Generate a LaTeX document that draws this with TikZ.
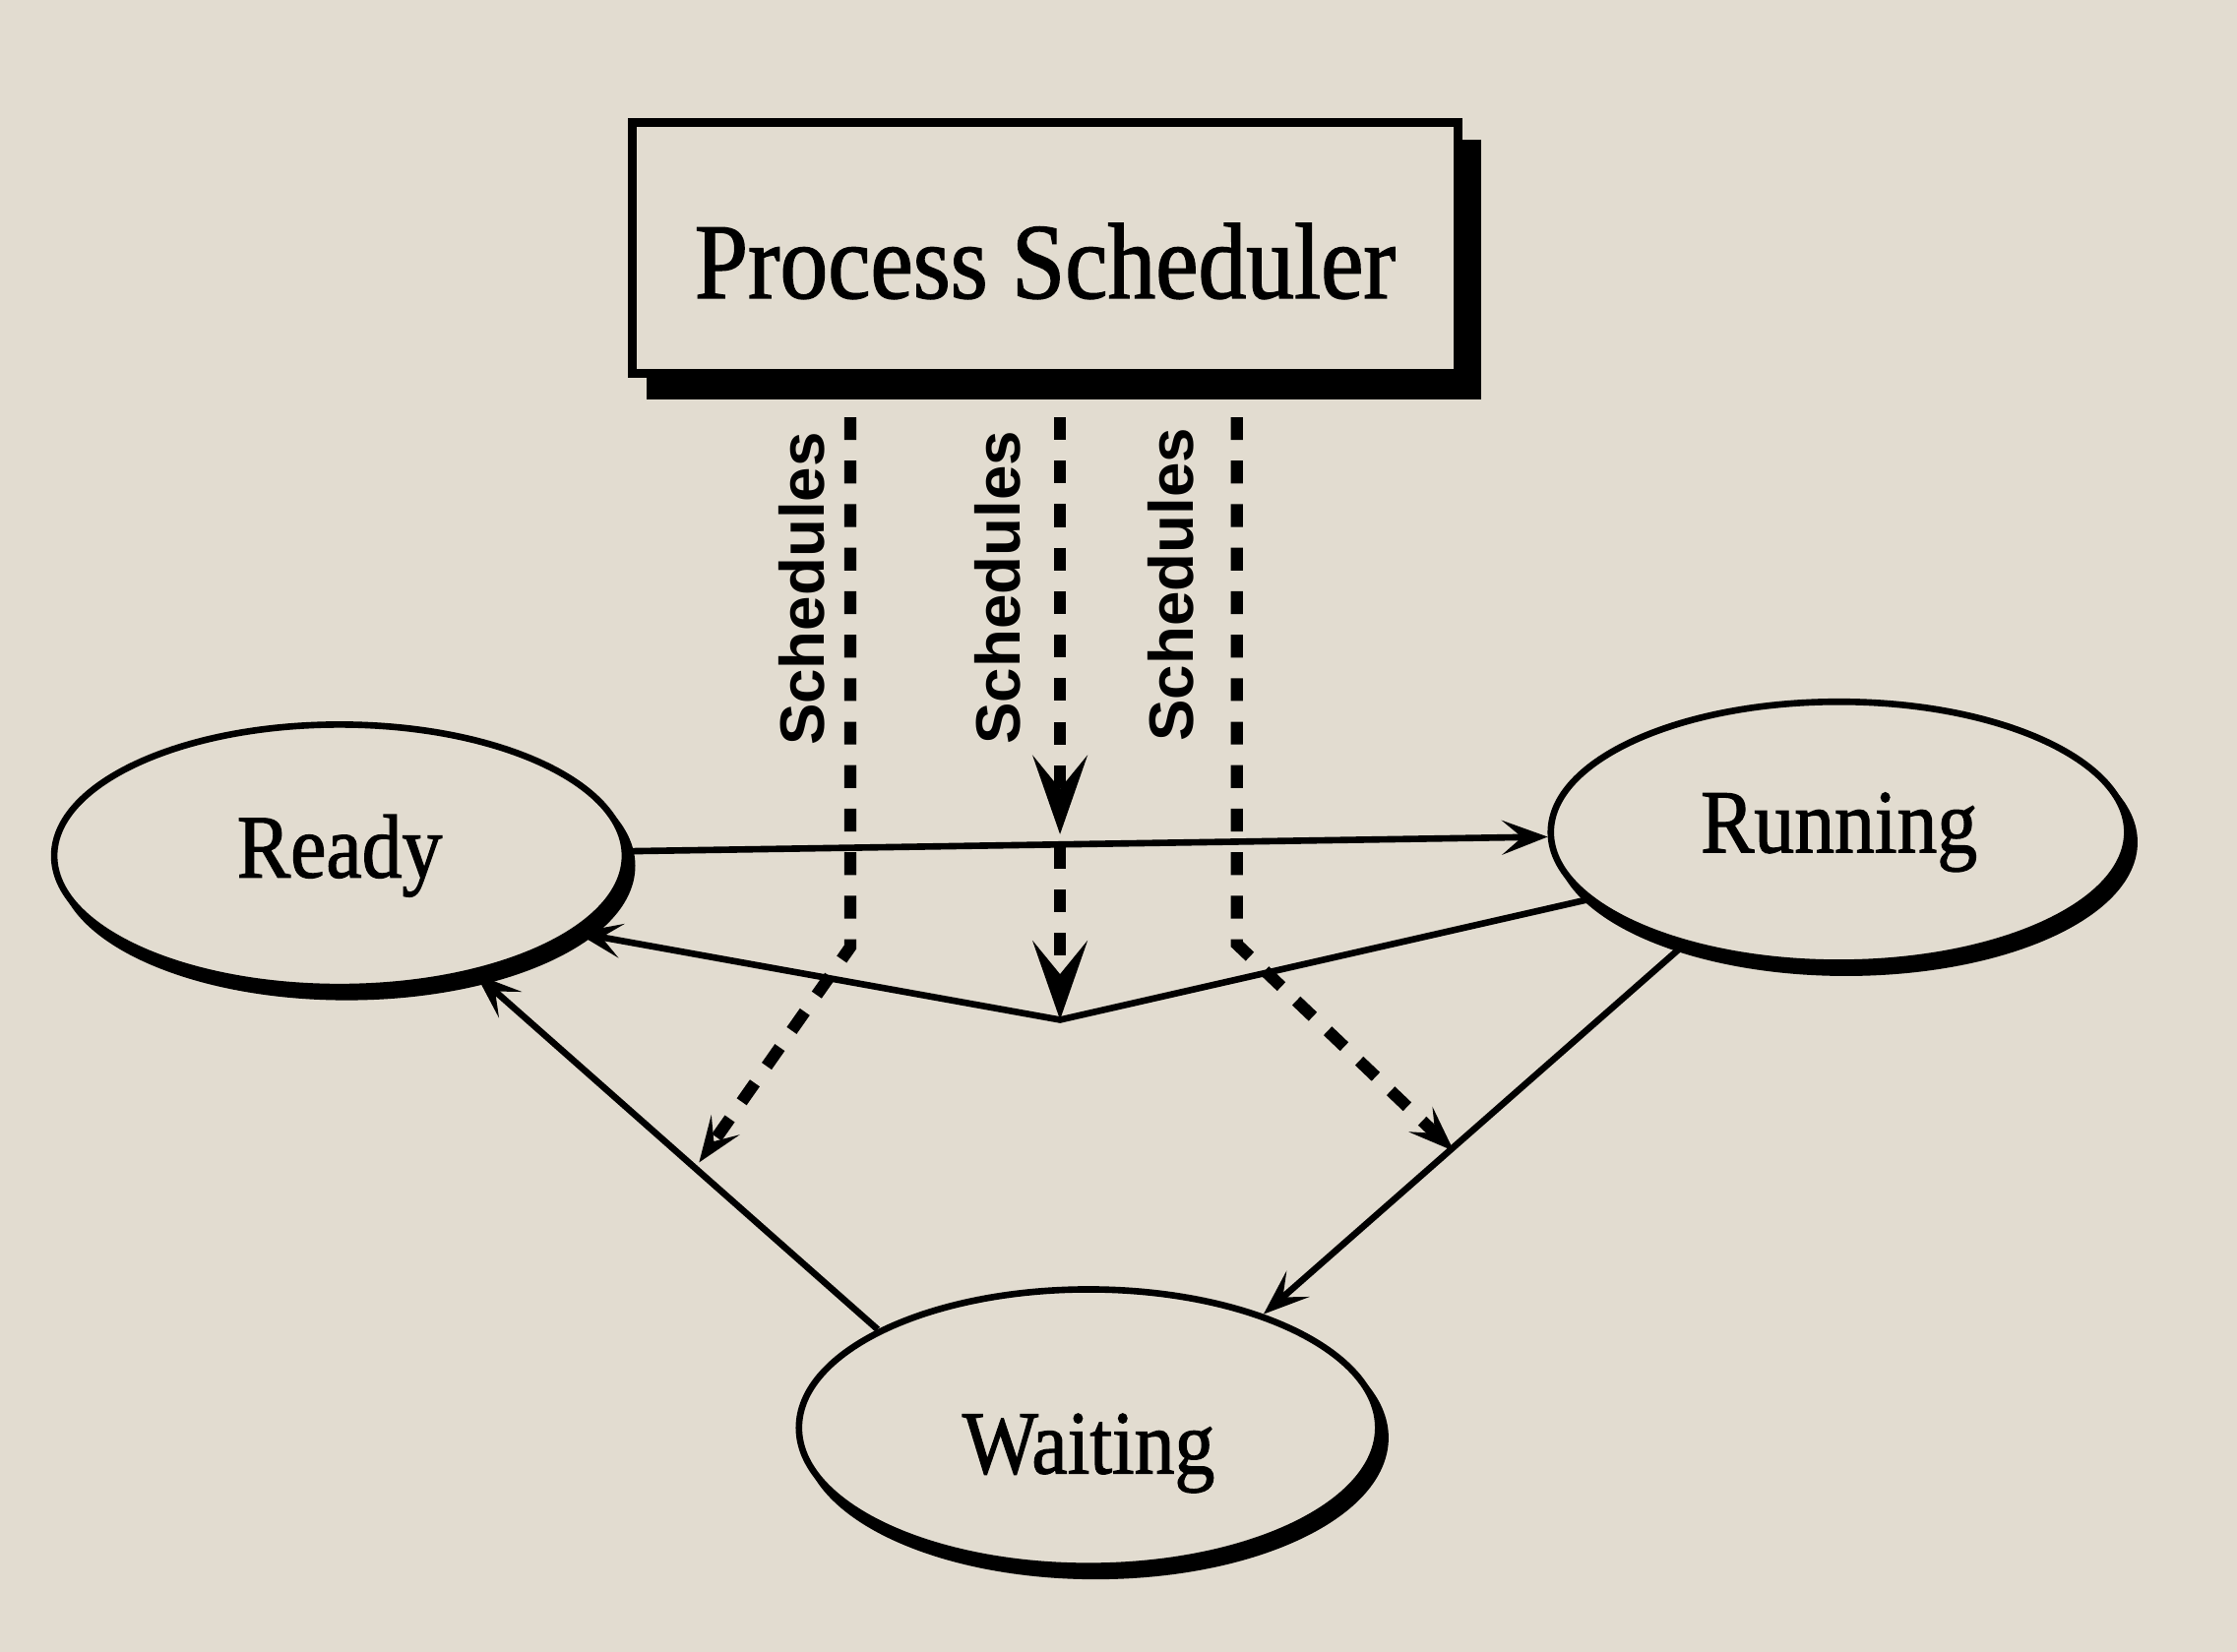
\documentclass[tikz,border=0pt]{standalone}
\usepackage{fontspec}
\setmainfont{Liberation Serif}[FakeStretch=0.89, FakeBold=1.3]
\setsansfont{Liberation Sans}
\usepackage{tikz}
\usetikzlibrary{arrows.meta,shapes.geometric,shadows,calc}
\definecolor{paper}{RGB}{226,220,208}
\tikzset{
  state/.style={draw, ellipse, line width=1.3pt, fill=paper, inner sep=0pt,
    font=\fontsize{18}{20}\selectfont,
    copy shadow={shadow xshift=0.5mm, shadow yshift=-0.7mm, fill=black, draw=black}},
  sched/.style={dash pattern=on 1.6mm off 1.45mm, line width=2.4pt},
  lab/.style={rotate=90, font=\sffamily\bfseries\fontsize{12.5}{14}\selectfont},
  bigtip/.style={-{Stealth[length=5.5mm,width=3.8mm,inset=2.3mm]}}
}
\begin{document}
\begin{tikzpicture}[>={Stealth[length=3.2mm,width=2.4mm,inset=1.4mm]}, line width=1.3pt]
  \path[fill=paper, use as bounding box] (0,0) rectangle (15.68,-11.58);
  % Nodes
  \node[draw, line width=1.7pt, fill=paper, minimum width=5.79cm, minimum height=1.76cm, text height=0.7cm, text depth=0cm,
    font=\fontsize{21.5}{24}\selectfont,
    copy shadow={shadow xshift=1.3mm, shadow yshift=-1.5mm, fill=black, draw=black}](PS) at (7.325,-1.74) {Process Scheduler};
  \node[state, minimum width=4.0cm, minimum height=1.84cm](Ready) at (2.38,-6.00) {Ready};
  \node[state, minimum width=4.04cm, minimum height=1.83cm](Running) at (12.89,-5.835) {Running};
  \node[state, minimum width=4.06cm, minimum height=1.94cm, text height=0.78cm, text depth=0.14cm](Waiting) at (7.63,-10.01) {Waiting};
  \node[lab](labL) at (5.62,-4.13) {Schedules};
  \node[lab](labM) at (6.99,-4.12) {Schedules};
  \node[lab](labR) at (8.21,-4.10) {Schedules};
  % Coordinates
  \coordinate (bend) at (7.43,-7.15);
  \coordinate (hit) at (7.43,-5.85);
  \coordinate (sL) at (5.96,-2.62);
  \coordinate (kL) at (5.96,-6.64);
  \coordinate (eL) at (4.90,-8.15);
  \coordinate (sM) at (7.43,-2.62);
  \coordinate (sR) at (8.67,-2.62);
  \coordinate (kR) at (8.67,-6.62);
  \coordinate (eR) at (10.19,-8.07);
  % Edges
  \draw[->] (Ready) -- (Running);
  \draw[->] (Running.195) -- (bend) -- (Ready.-18);
  \draw[->] (Waiting.155.7) -- (Ready.-41);
  \draw[->] (Running.216) -- (Waiting.33);
  \draw[sched,->] (sL) -- (kL) -- (eL);
  \draw[sched,->] (sR) -- (kR) -- (eR);
  \draw[sched,bigtip] (sM) -- (hit);
  \draw[sched,bigtip] ($(hit)+(0,-0.08)$) -- (bend);
\end{tikzpicture}
\end{document}
